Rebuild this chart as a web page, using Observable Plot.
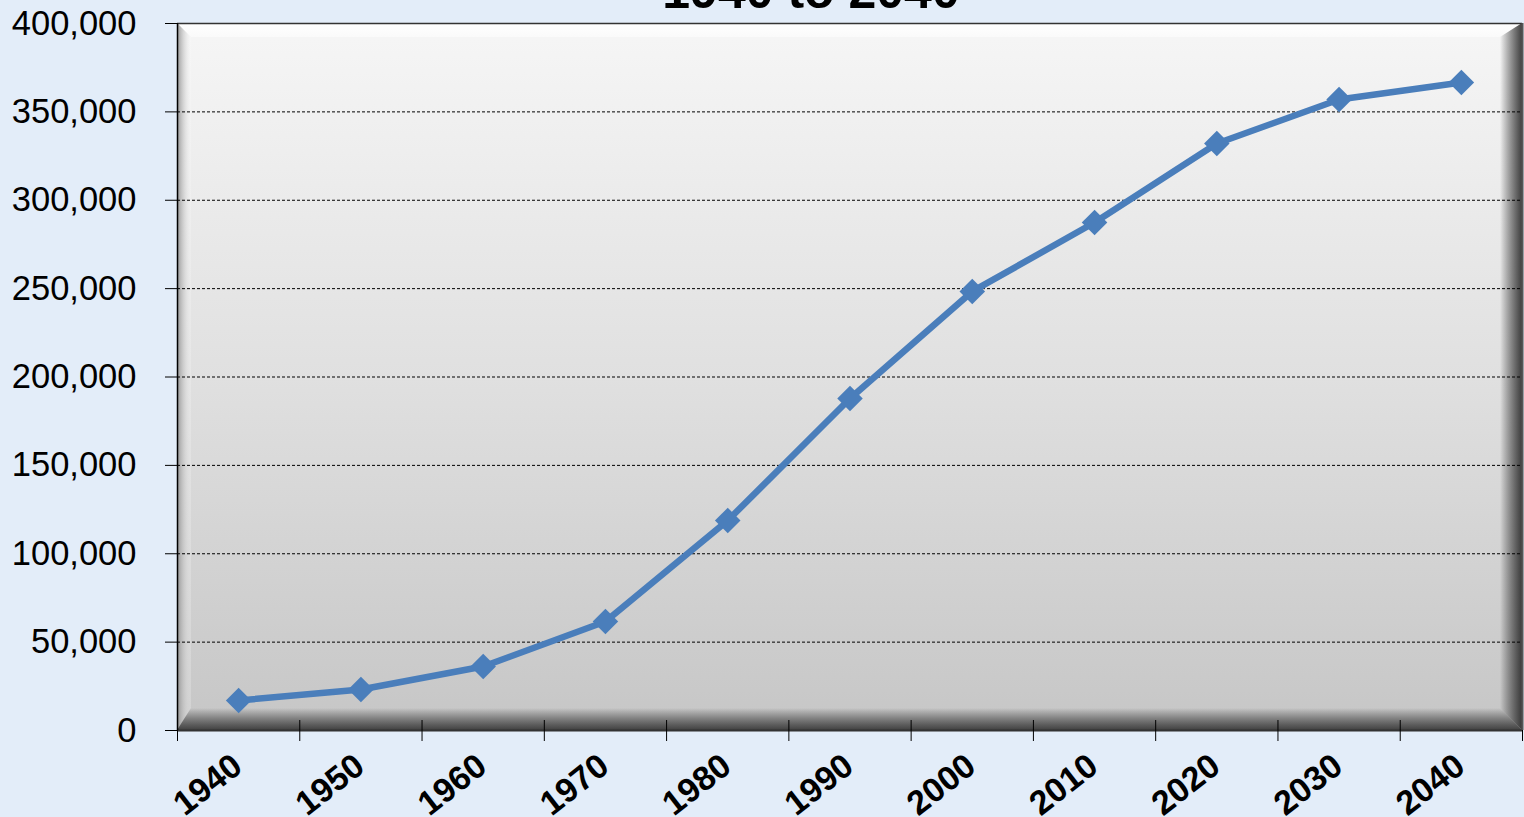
<!DOCTYPE html>
<html>
<head>
<meta charset="utf-8">
<script src="https://cdn.jsdelivr.net/npm/d3@7"></script>
<script src="https://cdn.jsdelivr.net/npm/@observablehq/plot@0.6"></script>
<style>
  html, body { margin: 0; padding: 0; background: #e3edf9; overflow: hidden; }
  #chart { width: 1524px; height: 817px; }
</style>
</head>
<body>
<div id="chart"></div>
<script>
const years = [1940, 1950, 1960, 1970, 1980, 1990, 2000, 2010, 2020, 2030, 2040];
const population = [17000, 23200, 36200, 61700, 118800, 187800, 248400, 287400, 332100, 357000, 366600];
const yTicks = [0, 50000, 100000, 150000, 200000, 250000, 300000, 350000, 400000];
const gridTicks = [50000, 100000, 150000, 200000, 250000, 300000, 350000];
const categoryEdges = [1935, 1945, 1955, 1965, 1975, 1985, 1995, 2005, 2015, 2025, 2035, 2045];
const titleLines = ["1940 to 2040"];

const data = years.map((year, i) => ({ year, value: population[i] }));

const W = 1524, H = 817, mL = 177, mR = 2, mT = 23, mB = 87;
const font = "'Liberation Sans', Arial, sans-serif";

const chart = Plot.plot({
  width: W, height: H,
  marginLeft: mL, marginRight: mR, marginTop: mT, marginBottom: mB,
  style: { background: "transparent", fontFamily: font, color: "#000", overflow: "visible" },
  x: { type: "linear", domain: [1935, 2045] },
  y: { domain: [0, 400000] },
  marks: [
    Plot.frame({ fill: "url(#plotbg)", stroke: "none" }),
    Plot.gridY(gridTicks, { stroke: "#000", strokeOpacity: 1, strokeWidth: 1, strokeDasharray: "3,2" }),
    Plot.ruleY([400000], { stroke: "#333", strokeWidth: 1.5 }),
    Plot.ruleX([2045], { stroke: "#555", strokeWidth: 2 }),
    Plot.ruleY([0], { stroke: "#333", strokeWidth: 2 }),
    Plot.ruleX([1935], { stroke: "#000", strokeWidth: 1.5 }),
    Plot.axisY({ ticks: yTicks, tickSize: 12, tickPadding: 29, fontSize: 34.5, tickFormat: d3.format(","), label: null, stroke: "#000" }),
    Plot.axisX({ ticks: categoryEdges, tickSize: 11, tickFormat: () => "", label: null, stroke: "#000" }),
    Plot.axisX({ ticks: categoryEdges.slice(1, -1), tickSize: 10, anchor: "bottom", tickFormat: () => "", label: null, stroke: "#000", dy: -10 }),
    Plot.axisX({ ticks: years, tickSize: 0, tickPadding: 31, tickRotate: -38, fontSize: 34, fontWeight: "bold", tickFormat: d => String(d), label: null, dx: -1 }),
    Plot.line(data, { x: "year", y: "value", stroke: "#4a7ebb", strokeWidth: 6.5, strokeLinejoin: "round" }),
    Plot.dot(data, { x: "year", y: "value", symbol: "diamond2", r: 11.5, fill: "#4a7ebb", stroke: "none" }),
    Plot.text(titleLines, { frameAnchor: "top", dy: -16, dx: -39, fontSize: 50, fontWeight: "bold", lineAnchor: "bottom", fill: "#000" })
  ]
});

document.getElementById("chart").appendChild(chart);

// Decorative plot-area gradient and bevel
const svg = d3.select(chart);
const defs = svg.insert("defs", ":first-child");
const mkGrad = (id, x1, y1, x2, y2, stops) => {
  const g = defs.append("linearGradient").attr("id", id)
    .attr("x1", x1).attr("y1", y1).attr("x2", x2).attr("y2", y2);
  stops.forEach(([o, c, a]) => g.append("stop").attr("offset", o).attr("stop-color", c).attr("stop-opacity", a));
};
mkGrad("plotbg", 0, 0, 0, 1, [[0, "#f6f6f6", 1], [0.5, "#e0e0e0", 1], [1, "#c6c6c6", 1]]);
mkGrad("bevTop", 0, 0, 0, 1, [[0, "#ffffff", 1], [1, "#ffffff", 0.5]]);
mkGrad("bevLeft", 0, 0, 1, 0, [[0, "#8a8a8a", 0.9], [1, "#ffffff", 0.2]]);
mkGrad("bevRight", 0, 0, 1, 0, [[0, "#000000", 0.0], [1, "#202020", 0.85]]);
mkGrad("bevBottom", 0, 0, 0, 1, [[0, "#000000", 0.0], [1, "#202020", 0.8]]);

const x0 = mL, x1 = W - mR, y0 = mT, y1 = H - mB;
const bT = 14, bL = 14, bR = 22, bB = 22;
const frameEl = chart.querySelector('[aria-label="frame"]');
const bev = document.createElementNS("http://www.w3.org/2000/svg", "g");
frameEl.parentNode.insertBefore(bev, frameEl.nextSibling);
const gb = d3.select(bev);
gb.append("polygon").attr("points", `${x0},${y0} ${x1},${y0} ${x1 - bR},${y0 + bT} ${x0 + bL},${y0 + bT}`).attr("fill", "url(#bevTop)");
gb.append("polygon").attr("points", `${x0},${y0} ${x0 + bL},${y0 + bT} ${x0 + bL},${y1 - bB} ${x0},${y1}`).attr("fill", "url(#bevLeft)");
gb.append("polygon").attr("points", `${x1},${y0} ${x1},${y1} ${x1 - bR},${y1 - bB} ${x1 - bR},${y0 + bT}`).attr("fill", "url(#bevRight)");
gb.append("polygon").attr("points", `${x0},${y1} ${x0 + bL},${y1 - bB} ${x1 - bR},${y1 - bB} ${x1},${y1}`).attr("fill", "url(#bevBottom)");
</script>
</body>
</html>
